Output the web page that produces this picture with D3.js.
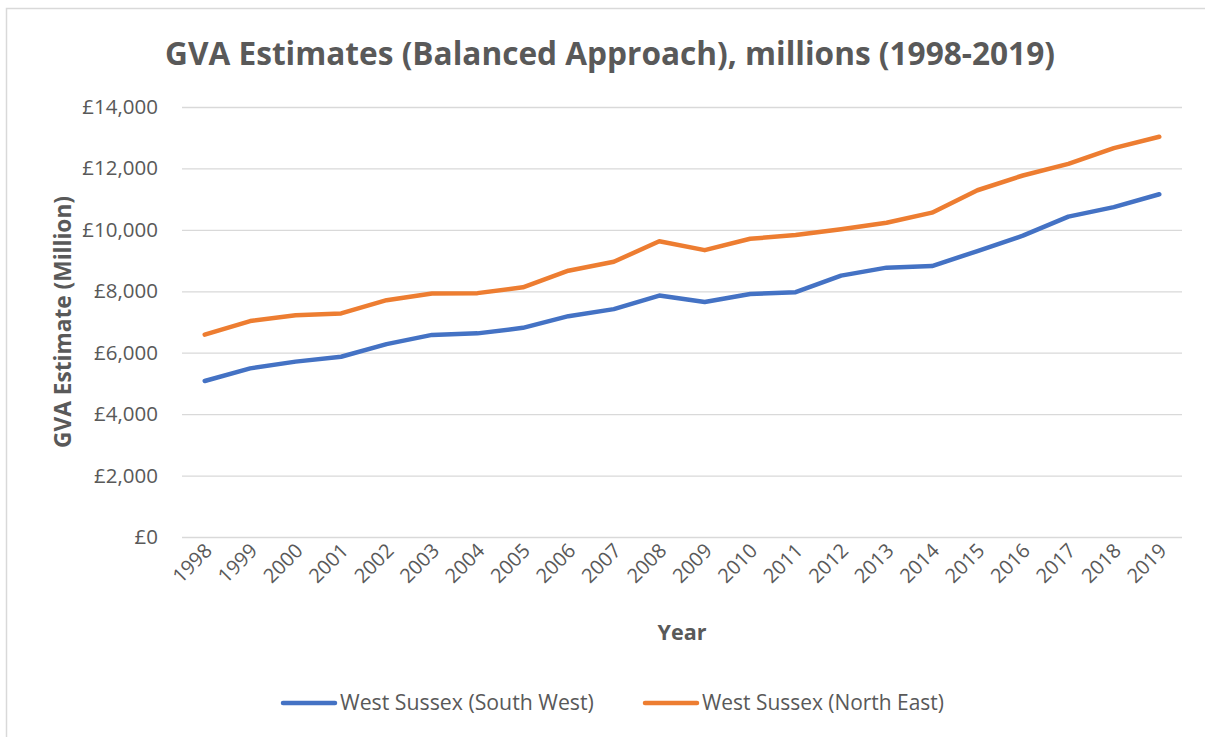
<!DOCTYPE html>
<html>
<head>
<meta charset="utf-8">
<script src="https://cdn.jsdelivr.net/npm/d3@7"></script>
<style>
  html, body { margin: 0; padding: 0; background: #fff; }
  svg { display: block; }
  text { font-family: "Open Sans", "Noto Sans", sans-serif; fill: #595959; }
</style>
</head>
<body>
<svg id="chart" width="1205" height="737"></svg>
<script>
const years = ["1998","1999","2000","2001","2002","2003","2004","2005","2006","2007","2008","2009","2010","2011","2012","2013","2014","2015","2016","2017","2018","2019"];
const southWest = [5080, 5490, 5710, 5870, 6280, 6580, 6630, 6810, 7190, 7420, 7860, 7650, 7910, 7970, 8510, 8770, 8820, 9310, 9810, 10430, 10740, 11160];
const northEast = [6590, 7030, 7220, 7280, 7710, 7930, 7940, 8130, 8670, 8960, 9630, 9340, 9710, 9830, 10020, 10230, 10560, 11290, 11770, 12150, 12660, 13030];
const seriesNames = ["West Sussex (South West)", "West Sussex (North East)"];
const seriesColors = ["#4472C4", "#ED7D31"];
const yTicks = [0, 2000, 4000, 6000, 8000, 10000, 12000, 14000];
const chartTitle = "GVA Estimates (Balanced Approach), millions (1998-2019)";
const xTitle = "Year";
const yTitle = "GVA Estimate (Million)";

const svg = d3.select("#chart");
const W = 1205, H = 737;
const m = { left: 182, right: 1182, top: 107, bottom: 537 };

// outer border (only top and left edges visible in the crop)
svg.append("path").attr("d", `M6.5,${H} V8.5 H${W}`)
  .attr("fill", "none").attr("stroke", "#D9D9D9").attr("stroke-width", 1.5);

const x = d3.scalePoint().domain(years).range([m.left, m.right]).padding(0.5);
const y = d3.scaleLinear().domain([0, 14000]).range([m.bottom, m.top]);

function fit(sel, target) {
  const node = sel.node();
  const fs = parseFloat(sel.attr("font-size"));
  const w = node.getComputedTextLength();
  sel.attr("font-size", (fs * target / w).toFixed(2));
}

// title
const t = svg.append("text").attr("x", (m.left + m.right) / 2 - 72).attr("y", 65)
  .attr("text-anchor", "middle").attr("font-size", 30).attr("font-weight", "bold")
  .text(chartTitle);
fit(t, 890);

// gridlines + y axis
const yAxis = d3.axisLeft(y).tickValues(yTicks).tickSize(-(m.right - m.left)).tickPadding(24)
  .tickFormat(d => "£" + d3.format(",")(d));
const gy = svg.append("g").attr("transform", `translate(${m.left},0)`).call(yAxis);
gy.select(".domain").remove();
gy.selectAll(".tick line").attr("stroke", "#D9D9D9").attr("stroke-width", 1.3);
gy.selectAll(".tick text").attr("font-size", 20.5).attr("fill", "#595959")
  .style("font-family", '"Open Sans", sans-serif');

// x axis
const xAxis = d3.axisBottom(x).tickSize(0).tickPadding(0);
const gx = svg.append("g").attr("transform", `translate(0,${m.bottom})`).call(xAxis);
gx.select(".domain").remove();
gx.selectAll(".tick text").attr("font-size", 20).attr("fill", "#595959")
  .style("font-family", '"Open Sans", sans-serif')
  .attr("text-anchor", "end").attr("dy", null).attr("y", 0)
  .attr("transform", "translate(8,15) rotate(-45)");

// axis titles
const xt = svg.append("text").attr("x", (m.left + m.right) / 2).attr("y", 640)
  .attr("text-anchor", "middle").attr("font-size", 20).attr("font-weight", "bold").text(xTitle);
fit(xt, 49);
const yt = svg.append("text").attr("transform", `translate(71,${(m.top + m.bottom) / 2}) rotate(-90)`)
  .attr("text-anchor", "middle").attr("font-size", 20).attr("font-weight", "bold").text(yTitle);
fit(yt, 252);

// lines
const line = d3.line().x((d, i) => x(years[i])).y(d => y(d));
[southWest, northEast].forEach((s, i) => {
  svg.append("path").datum(s).attr("d", line).attr("fill", "none")
    .attr("stroke", seriesColors[i]).attr("stroke-width", 4.5)
    .attr("stroke-linejoin", "round").attr("stroke-linecap", "round");
});

// legend
const legendX = [283, 645];
seriesNames.forEach((n, i) => {
  svg.append("line").attr("x1", legendX[i]).attr("x2", legendX[i] + 52).attr("y1", 703).attr("y2", 703)
    .attr("stroke", seriesColors[i]).attr("stroke-width", 4.5).attr("stroke-linecap", "round");
  const lt = svg.append("text").attr("x", legendX[i] + 57).attr("y", 710).attr("font-size", 19).text(n);
  fit(lt, i === 0 ? 254 : 242);
});
</script>
</body>
</html>
